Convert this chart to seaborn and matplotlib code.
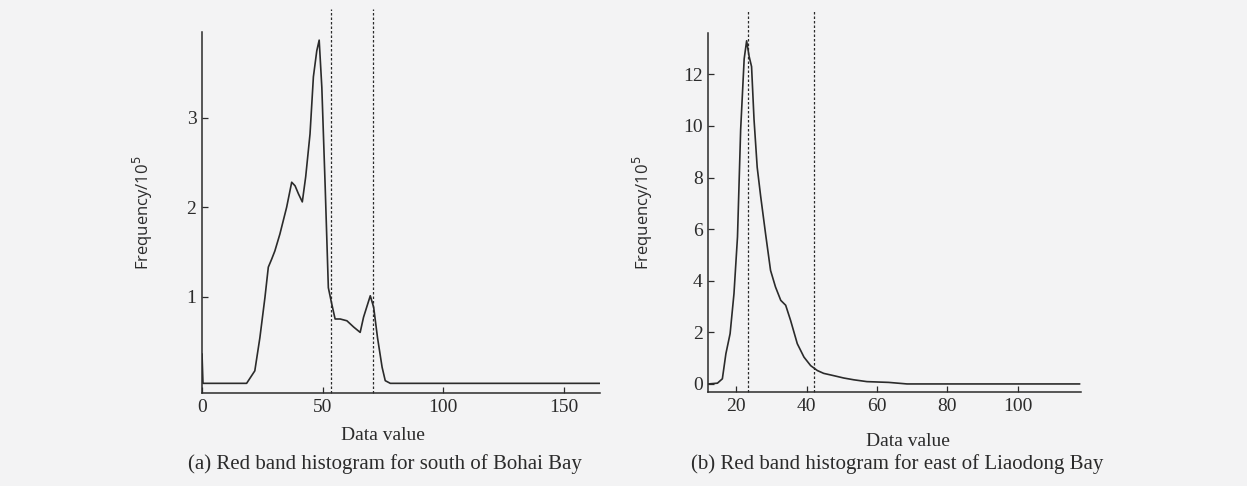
import numpy as np
import pandas as pd
import matplotlib
matplotlib.use("Agg")
import matplotlib.pyplot as plt
import seaborn as sns

# --- data (frequency in 10^5) ---
bohai_x = [0, 0.4, 18.5, 21.9, 24.0, 26.1, 27.5, 28.9, 30.2, 32.3, 35.1, 37.2, 38.6,
           40.0, 41.6, 43.0, 44.8, 46.2, 47.6, 48.6, 49.7, 51.1, 52.4, 53.8, 55.2,
           57.3, 60.1, 62.9, 65.6, 67.0, 69.8, 71.2, 72.8, 74.7, 76.0, 78.1, 165]
bohai_y = [0.36, 0.03, 0.03, 0.17, 0.54, 0.99, 1.33, 1.42, 1.51, 1.70, 2.00, 2.28, 2.24,
           2.15, 2.06, 2.34, 2.82, 3.46, 3.75, 3.87, 3.34, 2.22, 1.10, 0.92, 0.75,
           0.75, 0.73, 0.66, 0.60, 0.77, 1.01, 0.88, 0.54, 0.21, 0.06, 0.03, 0.03]
bohai_cuts = [53.6, 70.9]

liaodong_x = [12, 14.6, 16.0, 17.0, 18.2, 19.3, 20.3, 21.2, 22.2, 22.9, 23.6, 24.3, 25.0,
              25.9, 26.9, 28.3, 29.7, 31.1, 32.6, 34.0, 35.4, 37.3, 39.2, 41.1, 43.0,
              44.8, 47.7, 50.5, 53.4, 57.1, 63.3, 68.5, 117.6]
liaodong_y = [0.0, 0.03, 0.2, 1.17, 1.95, 3.5, 5.7, 9.86, 12.6, 13.3, 12.7, 12.3, 10.25,
              8.4, 7.26, 5.8, 4.4, 3.76, 3.24, 3.05, 2.46, 1.56, 1.04, 0.71, 0.52,
              0.41, 0.32, 0.23, 0.16, 0.09, 0.06, 0.0, 0.0]
liaodong_cuts = [23.3, 42.0]

captions = ["(a) Red band histogram for south of Bohai Bay",
            "(b) Red band histogram for east of Liaodong Bay"]

sns.set_theme(style="ticks")
plt.rcParams['font.family'] = ['Liberation Serif', 'DejaVu Serif']
bg = "#f3f3f4"
ink = "#2b2b2b"

fig = plt.figure(figsize=(12.47, 4.86), dpi=100, facecolor=bg)
ax1 = fig.add_axes([0.162, 0.191, 0.319, 0.743], facecolor=bg)
ax2 = fig.add_axes([0.568, 0.193, 0.299, 0.739], facecolor=bg)

df1 = pd.DataFrame({"x": bohai_x, "y": bohai_y})
df2 = pd.DataFrame({"x": liaodong_x, "y": liaodong_y})

panels = [
    (ax1, df1, bohai_cuts, (0, 165), (-0.08, 3.96), [0, 50, 100, 150], [1, 2, 3],
     (0.455, -0.095), -0.118, captions[0], 385),
    (ax2, df2, liaodong_cuts, (12, 118), (-0.32, 13.6), [20, 40, 60, 80, 100],
     [0, 2, 4, 6, 8, 10, 12], (0.536, -0.113), -0.142, captions[1], 897),
]

for ax, df, cuts, xl, yl, xt, yt, xlab_pos, ylab_x, cap, cap_x in panels:
    sns.lineplot(data=df, x="x", y="y", ax=ax, color=ink, linewidth=1.2,
                 estimator=None, sort=False)
    for c in cuts:
        ax.axvline(c, ymin=0, ymax=1.065, color=ink, linestyle=(0, (2, 1.6)),
                   linewidth=0.9, clip_on=False)
    ax.set_xlim(*xl)
    ax.set_ylim(*yl)
    ax.set_xticks(xt)
    ax.set_yticks(yt)
    ax.tick_params(direction="in", length=4, width=0.9, colors=ink,
                   labelsize=14, pad=4)
    for s in ["top", "right"]:
        ax.spines[s].set_visible(False)
    for s in ["left", "bottom"]:
        ax.spines[s].set_color(ink)
        ax.spines[s].set_linewidth(1.1)
    ax.set_xlabel("Data value", fontsize=14, color=ink)
    ax.xaxis.set_label_coords(*xlab_pos)
    ax.set_ylabel("Frequency/10$^5$", fontsize=12, color=ink,
                  family=['Open Sans', 'DejaVu Sans'])
    ax.yaxis.set_label_coords(ylab_x, 0.5)
    fig.text(cap_x / 1247, 0.045, cap, ha="center", va="center",
             fontsize=15, color=ink)

plt.savefig("out.png", dpi=100, facecolor=bg)
